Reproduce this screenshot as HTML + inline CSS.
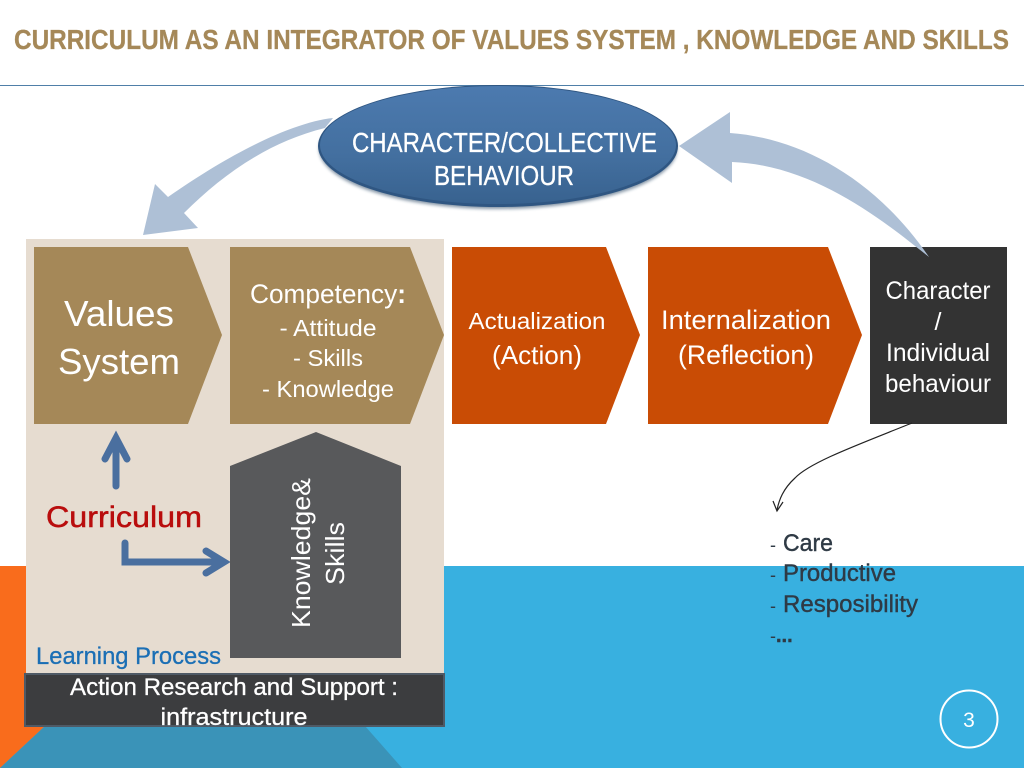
<!DOCTYPE html>
<html>
<head>
<meta charset="utf-8">
<title>Curriculum as an integrator</title>
<style>
html,body{margin:0;padding:0;background:#fff;width:1024px;height:768px;overflow:hidden}
svg{display:block}
text{font-family:"Liberation Sans",sans-serif}
</style>
</head>
<body>
<svg width="1024" height="768" viewBox="0 0 1024 768" xmlns="http://www.w3.org/2000/svg">
<defs>
<linearGradient id="e" x1="0" y1="0" x2="0" y2="1">
<stop offset="0" stop-color="#4c7aaf"/><stop offset=".6" stop-color="#436f9f"/><stop offset="1" stop-color="#38628f"/>
</linearGradient>
<filter id="b" x="-10%" y="-10%" width="120%" height="130%"><feGaussianBlur stdDeviation="1.5"/></filter>
</defs>
<rect width="1024" height="768" fill="#fff"/>
<rect x="0" y="566" width="1024" height="202" fill="#38b0e0"/>
<polygon points="0,566 26,566 26,726 45,726 0,768" fill="#f96c1c"/>
<polygon points="45,726 365,726 402,768 0,768" fill="#3a93b8"/>
<rect x="0" y="85" width="1024" height="1" fill="#4f7fa8"/>
<text x="14" y="49" font-size="28" font-weight="bold" fill="#a58858" stroke="#a58858" stroke-width=".3" textLength="995" lengthAdjust="spacingAndGlyphs">CURRICULUM AS AN INTEGRATOR OF VALUES SYSTEM , KNOWLEDGE AND SKILLS</text>

<rect x="26" y="239" width="418" height="436" fill="#e6dcd0"/>

<path d="M333,118 C295,122 235,150 168,197 L155,184 L143,235 L198,228 L184,213 C222,175 268,142 325,128 Z" fill="#aec0d6"/>

<ellipse cx="498" cy="149" rx="179" ry="60" fill="#24415f" opacity=".55" filter="url(#b)"/>
<ellipse cx="498" cy="146" rx="180" ry="61" fill="#2f5682"/>
<ellipse cx="498" cy="145" rx="178" ry="59" fill="url(#e)"/>
<text x="352" y="152" font-size="28" fill="#fff" stroke="#fff" stroke-width=".3" textLength="305" lengthAdjust="spacingAndGlyphs">CHARACTER/COLLECTIVE</text>
<text x="434" y="185" font-size="28" fill="#fff" stroke="#fff" stroke-width=".3" textLength="140" lengthAdjust="spacingAndGlyphs">BEHAVIOUR</text>

<polygon points="34,247 188,247 222,335 188,424 34,424" fill="#a58858"/>
<polygon points="230,247 410,247 444,335 410,424 230,424" fill="#a58858"/>
<polygon points="452,247 606,247 640,335 606,424 452,424" fill="#c94c05"/>
<polygon points="648,247 828,247 862,335 828,424 648,424" fill="#c94c05"/>
<rect x="870" y="247" width="137" height="177" fill="#333333"/>

<path d="M679,146 L730,112 L730,133 C800,138 875,178 929,257 C885,222 815,165 732,162 L732,183 Z" fill="#aec0d6"/>

<g fill="#fff" text-anchor="middle">
<text x="119" y="326" font-size="36" textLength="110" lengthAdjust="spacingAndGlyphs">Values</text>
<text x="119" y="374" font-size="36" textLength="122" lengthAdjust="spacingAndGlyphs">System</text>
<text x="328" y="303" font-size="27" textLength="156" lengthAdjust="spacingAndGlyphs">Competency<tspan font-weight="bold">:</tspan></text>
<text x="328" y="336" font-size="23" textLength="97" lengthAdjust="spacingAndGlyphs">- Attitude</text>
<text x="328" y="366" font-size="23" textLength="70" lengthAdjust="spacingAndGlyphs">- Skills</text>
<text x="328" y="397" font-size="23" textLength="132" lengthAdjust="spacingAndGlyphs">- Knowledge</text>
<text x="537" y="329" font-size="23" textLength="137" lengthAdjust="spacingAndGlyphs">Actualization</text>
<text x="537" y="364" font-size="26" textLength="90" lengthAdjust="spacingAndGlyphs">(Action)</text>
<text x="746" y="329" font-size="27" textLength="170" lengthAdjust="spacingAndGlyphs">Internalization</text>
<text x="746" y="364" font-size="27" textLength="136" lengthAdjust="spacingAndGlyphs">(Reflection)</text>
<text x="938" y="299" font-size="25" textLength="105" lengthAdjust="spacingAndGlyphs">Character</text>
<text x="938" y="330" font-size="25">/</text>
<text x="938" y="361" font-size="25" textLength="104" lengthAdjust="spacingAndGlyphs">Individual</text>
<text x="938" y="392" font-size="25" textLength="106" lengthAdjust="spacingAndGlyphs">behaviour</text>
</g>

<g fill="none" stroke="#4a6f9f" stroke-width="7" stroke-linecap="round" stroke-linejoin="miter">
<path d="M116,486 V440 M105,459 L116,438 L127,459"/>
<path d="M125,543 V562 H224 M206,551 L224,562 L206,573"/>
</g>

<polygon points="230,466 316,432 401,466 401,658 230,658" fill="#58595b"/>
<text transform="translate(310,628) rotate(-90)" font-size="26" fill="#fff" textLength="150" lengthAdjust="spacingAndGlyphs">Knowledge&amp;</text>
<text transform="translate(344,585) rotate(-90)" font-size="26" fill="#fff" textLength="63" lengthAdjust="spacingAndGlyphs">Skills</text>

<text x="46" y="527" font-size="30" fill="#b90d0d" stroke="#b90d0d" stroke-width=".5" textLength="156" lengthAdjust="spacingAndGlyphs">Curriculum</text>
<text x="36" y="664" font-size="24" fill="#1b6fb5" stroke="#1b6fb5" stroke-width=".3" textLength="185" lengthAdjust="spacingAndGlyphs">Learning Process</text>

<rect x="25" y="674" width="419" height="52" fill="#3c3d3f" stroke="#4f5a66" stroke-width="2"/>
<text x="234" y="695" font-size="24" fill="#fff" stroke="#fff" stroke-width=".3" text-anchor="middle" textLength="328" lengthAdjust="spacingAndGlyphs">Action Research and Support :</text>
<text x="234" y="725" font-size="24" fill="#fff" stroke="#fff" stroke-width=".3" text-anchor="middle" textLength="147" lengthAdjust="spacingAndGlyphs">infrastructure</text>

<path d="M912,423 C860,444 810,462 795,478 C783,489 779,500 777,510" fill="none" stroke="#222" stroke-width="1.2"/>
<path d="M773,501 L777,511 L783,502" fill="none" stroke="#222" stroke-width="1.2"/>

<g font-size="24" fill="#2f3a45" stroke="#2f3a45" stroke-width=".4">
<text x="770" y="551"><tspan font-size="18" stroke="none">- </tspan><tspan x="783" textLength="50" lengthAdjust="spacingAndGlyphs">Care</tspan></text>
<text x="770" y="581"><tspan font-size="18" stroke="none">- </tspan><tspan x="783" textLength="113" lengthAdjust="spacingAndGlyphs">Productive</tspan></text>
<text x="770" y="612"><tspan font-size="18" stroke="none">- </tspan><tspan x="783" textLength="135" lengthAdjust="spacingAndGlyphs">Resposibility</tspan></text>
<text x="770" y="642"><tspan font-size="18" stroke="none">-</tspan><tspan x="776" font-weight="bold" font-size="20">...</tspan></text>
</g>

<circle cx="969" cy="719" r="28.5" fill="none" stroke="#fff" stroke-width="2"/>
<text x="969" y="727" font-size="21" fill="#fff" text-anchor="middle">3</text>
</svg>
</body>
</html>
